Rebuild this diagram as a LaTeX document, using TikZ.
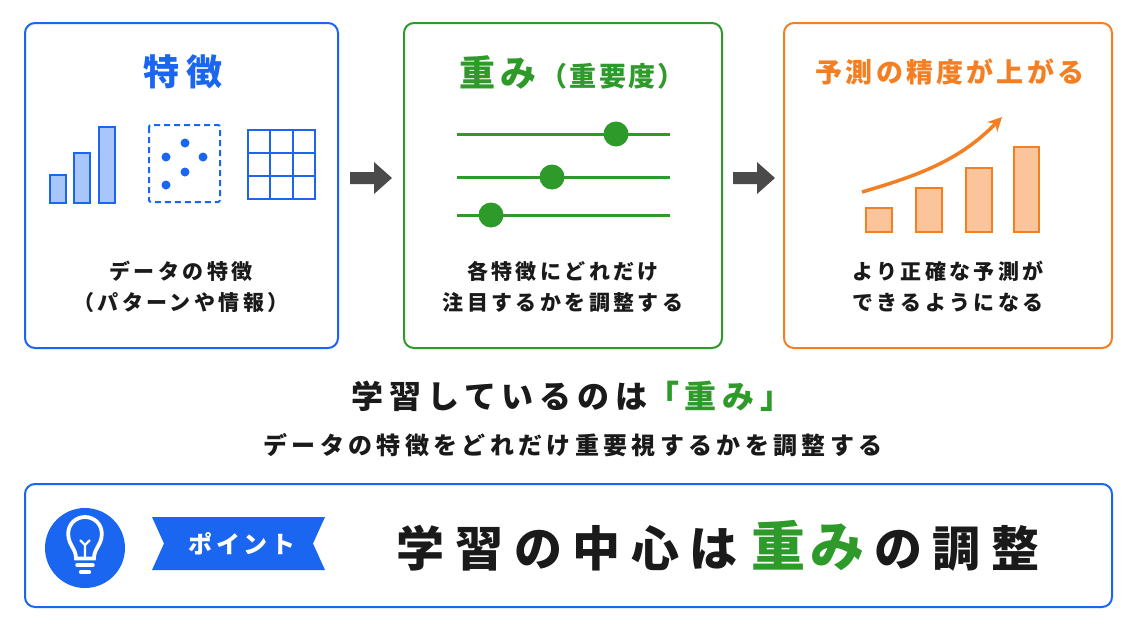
\documentclass[tikz,border=0pt]{standalone}
\usepackage{fontspec}
\usetikzlibrary{arrows.meta}
\setmainfont{Noto Sans CJK JP}
\newcommand{\ls}[1]{\addfontfeatures{LetterSpace=#1}}
\begin{document}
\definecolor{cb}{HTML}{1A66F0}
\definecolor{cbl}{HTML}{A9C6FA}
\definecolor{cg}{HTML}{2E9A2A}
\definecolor{co}{HTML}{F47E22}
\definecolor{col}{HTML}{FBC49A}
\definecolor{ck}{HTML}{1A1A1A}
\definecolor{cgr}{HTML}{4A4A4A}
\begin{tikzpicture}[x=1pt,y=-1pt,
  panel/.style={draw,line width=2pt,rounded corners=10pt},
  txt/.style={font=\fontsize{21}{31}\selectfont\bfseries\ls{16},text=ck,align=center}]
\useasboundingbox (0,0) rectangle (1143,643);
\fill[white] (0,0) rectangle (1143,643);
% panels
\node[panel,draw=cb,minimum width=313pt,minimum height=325pt] (p1) at (181.5,185.5) {};
\node[panel,draw=cg,minimum width=318pt,minimum height=325pt] (p2) at (563,185.5) {};
\node[panel,draw=co,minimum width=328pt,minimum height=325pt] (p3) at (948,185.5) {};
% titles
\node[font=\fontsize{36}{36}\selectfont\bfseries\ls{20},text=cb] (t1) at (183,72) {特徴};
\node[text=cg] (t2) at (572,72) {{\fontsize{36}{36}\selectfont\bfseries\ls{14}重み}\hspace{4pt}{\fontsize{27}{27}\selectfont\bfseries\ls{8}（重要度）}};
\node[font=\fontsize{27}{27}\selectfont\bfseries\ls{12},text=co] (t3) at (950,72) {予測の精度が上がる};
% panel1 icons
\foreach \a/\b/\c in {50/66/175,74/90/153,99/115/127}
  \draw[cb,fill=cbl,line width=2pt] (\a,\c) rectangle (\b,203);
\draw[cb,line width=2pt,dash pattern=on 6pt off 4pt,rounded corners=2pt] (149,125) rectangle (220,202);
\foreach \p in {(185,143),(166,157),(203,157),(185,172),(166,185)} \fill[cb] \p circle (4.5);
\draw[cb,line width=2.2pt] (248,130) rectangle (315,199);
\draw[cb,line width=2pt] (270.3,130)--(270.3,199) (292.7,130)--(292.7,199) (248,153)--(315,153) (248,176)--(315,176);
\node[txt] (d1) at (181,287) {データの特徴\\（パターンや情報）};
% panel2 sliders
\foreach \y/\k in {134/616,177/552,215/491}{
  \draw[cg,line width=3pt] (457,\y)--(670,\y);
  \fill[cg] (\k,\y) circle (12.5);}
\node[txt] (d2) at (563,287) {各特徴にどれだけ\\注目するかを調整する};
% panel3 bars
\foreach \a/\b/\c in {866/892/208,916/942/188,966/992/168,1014/1039/147}
  \draw[co,fill=col,line width=2pt] (\a,\c) rectangle (\b,232);
\draw[co,line width=3.5pt,-{Stealth[length=14pt,width=14pt]}] (862,192) .. controls (920,175) and (960,160) .. (1002,117);
\node[txt] (d3) at (948,287) {より正確な予測が\\できるようになる};
% gray arrows
\foreach \x in {350,733}
  \fill[cgr] (\x,172)--(\x+24,172)--(\x+24,162)--(\x+42,178)--(\x+24,194)--(\x+24,184)--(\x,184)--cycle;
% middle text
\node[font=\fontsize{32}{32}\selectfont\bfseries\ls{18},text=ck] (m1) at (572,396) {学習しているのは{\color{cg}「重み」}};
\node[font=\fontsize{24}{24}\selectfont\bfseries\ls{18},text=ck] (m2) at (573,445) {データの特徴をどれだけ重要視するかを調整する};
% bottom
\node[panel,draw=cb,minimum width=1087pt,minimum height=123pt] (bb) at (568.5,545.5) {};
\fill[cb] (85,548) circle (40);
\begin{scope}[white,line width=3.8pt,line cap=round,shift={(85,545)},scale=1.12,shift={(-85,-545)}]
\draw (77,557) .. controls (77,548) and (70,545) .. (70,535) .. controls (70,526) and (77,520) .. (85,520) .. controls (93,520) and (100,526) .. (100,535) .. controls (100,545) and (93,548) .. (93,557) -- cycle;
\draw[line width=2.3pt] (85,557)--(85,545) (81,541)--(85,545)--(89,541);
\draw (78,563)--(92,563);
\draw[line width=3.3pt] (81,569)--(89,569);
\end{scope}
\fill[cb] (152,517)--(325,517)--(313,543.5)--(325,570)--(152,570)--(164,543.5)--cycle;
\node[font=\fontsize{24}{24}\selectfont\bfseries\ls{15},text=white] (pt) at (242,544) {ポイント};
\node[font=\fontsize{48}{48}\selectfont\bfseries\ls{22},text=ck] (bt) at (718,546) {学習の中心は\hspace{14pt}{\color{cg}\fontsize{54}{54}\selectfont\ls{8}重み}\hspace{10pt}の調整};
\end{tikzpicture}
\end{document}
